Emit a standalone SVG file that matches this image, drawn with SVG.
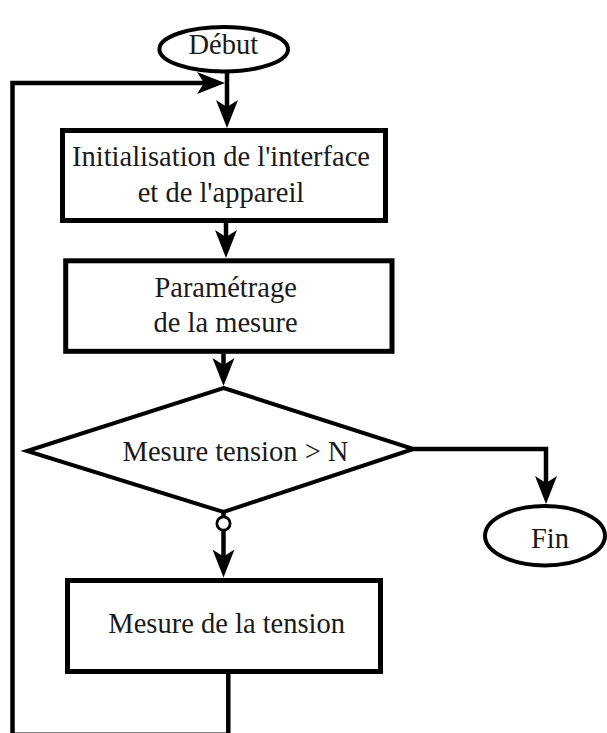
<svg xmlns="http://www.w3.org/2000/svg" width="607" height="733" viewBox="0 0 607 733">
<defs>
<style>
.shape{fill:#fff;stroke:#000;stroke-width:5}
.ell{fill:#fff;stroke:#000;stroke-width:4}
.dia{fill:#fff;stroke:#000;stroke-width:4;stroke-linejoin:miter}
.conn{fill:none;stroke:#000;stroke-width:4.5;stroke-linejoin:miter}
.txt{font-family:"Liberation Serif","Times New Roman",serif;font-size:28.5px;fill:#1a1a1a;text-anchor:middle}
</style>
<marker id="arr" markerUnits="userSpaceOnUse" markerWidth="30" markerHeight="24" viewBox="0 -12 30 24" refX="18" refY="0" orient="auto">
<path d="M0,-11 L28,0 L0,11 L7,0 Z" fill="#000"/>
</marker>
</defs>
<rect width="607" height="733" fill="#fff"/>
<g id="connectors">
<path class="conn" d="M227,73 V118" marker-end="url(#arr)"/>
<path class="conn" d="M226,223 V248" marker-end="url(#arr)"/>
<path class="conn" d="M223.5,353.5 V376" marker-end="url(#arr)"/>
<path class="conn" d="M223.5,512 V517"/>
<path class="conn" d="M223.5,530 V567.5" marker-end="url(#arr)"/>
<path class="conn" d="M413,449 H546 V494" marker-end="url(#arr)"/>
<path class="conn" d="M228.3,674 V734.8 H12.5 V83 H215" marker-end="url(#arr)"/>
<circle cx="223.5" cy="523.5" r="6.6" fill="#fff" stroke="#000" stroke-width="2.8"/>
</g>
<g id="debut">
<ellipse class="ell" cx="223.7" cy="49.2" rx="64.3" ry="22.2"/>
<text class="txt" x="223.3" y="54">Début</text>
</g>
<g id="init">
<rect class="shape" x="62.5" y="130.5" width="323" height="90"/>
<text class="txt" x="221" y="166">Initialisation de l'interface</text>
<text class="txt" x="221" y="202">et de l'appareil</text>
</g>
<g id="param">
<rect class="shape" x="65.7" y="260.8" width="326.3" height="90.5"/>
<text class="txt" x="225.6" y="296.7">Paramétrage</text>
<text class="txt" x="225.6" y="331.7">de la mesure</text>
</g>
<g id="decision">
<polygon class="dia" points="223.5,388 413.5,449 223.5,512 27,451"/>
<text class="txt" x="235.5" y="461">Mesure tension &gt; N</text>
</g>
<g id="fin">
<ellipse class="ell" cx="545" cy="535.7" rx="60" ry="29.7"/>
<text class="txt" x="550" y="548.3">Fin</text>
</g>
<g id="mesure">
<rect class="shape" x="67.5" y="580.5" width="313" height="91"/>
<text class="txt" x="226.7" y="633">Mesure de la tension</text>
</g>
</svg>
